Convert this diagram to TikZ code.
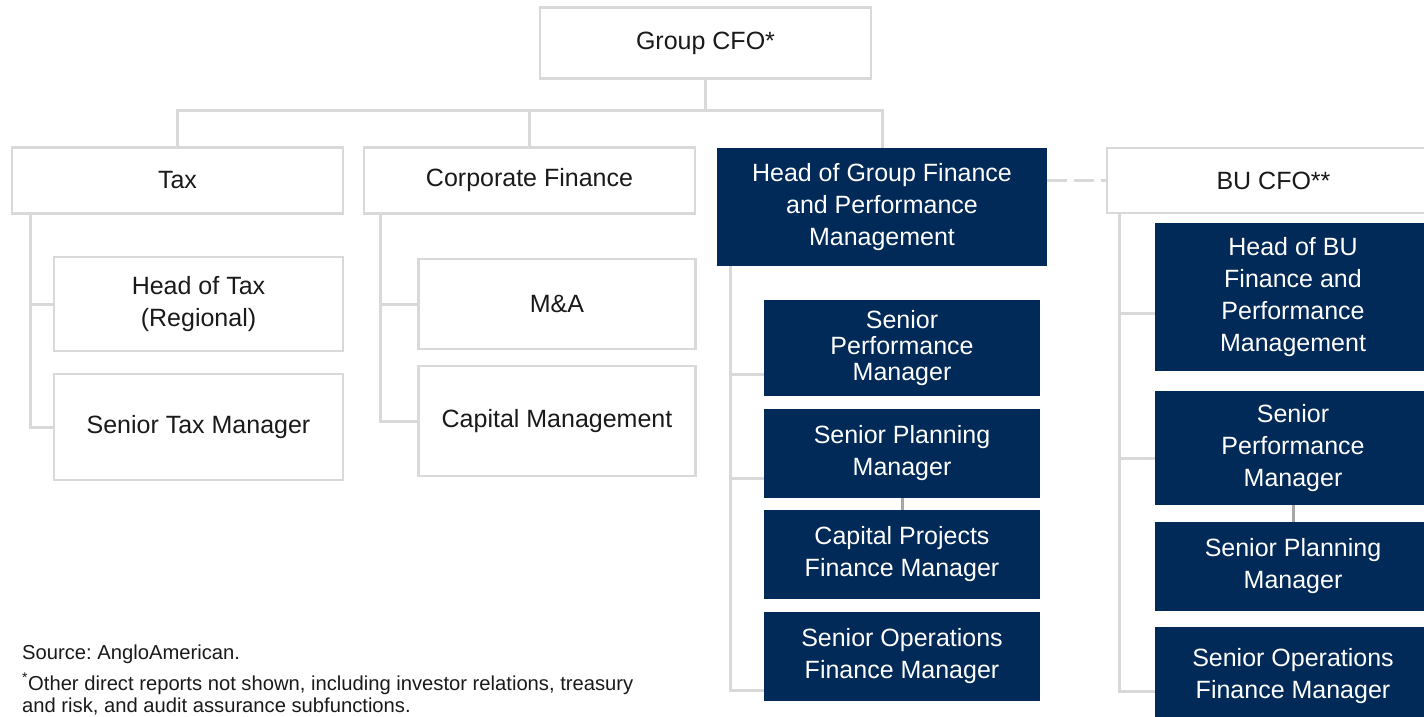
\documentclass[tikz,border=0pt]{standalone}
\usepackage{fontspec}
\setmainfont{Liberation Sans}
\usetikzlibrary{calc}
\frenchspacing

\definecolor{deepnavy}{HTML}{012A59}
\definecolor{linegray}{HTML}{D9D9D9}
\definecolor{stemgray}{HTML}{A6A6A6}
\definecolor{inktext}{HTML}{1A1A1A}

\tikzset{
  role/.style={draw=linegray, line width=2.5pt, fill=white, text=inktext, align=center, inner sep=0pt, font=\fontsize{25}{32}\selectfont},
  navyrole/.style={fill=deepnavy, text=white, align=center, inner sep=0pt, minimum width=276pt, font=\fontsize{25}{32}\selectfont},
  link/.style={draw=linegray, line width=3pt},
  stem/.style={draw=stemgray, line width=3pt},
  note/.style={text=inktext, inner sep=0pt, align=left, font=\fontsize{20.2}{22}\selectfont}
}

\begin{document}
\begin{tikzpicture}[x=1pt, y=-1pt]
  \useasboundingbox (0,0) rectangle (1424,716);

  % top of the chart
  \node[role, minimum width=331pt, minimum height=71pt] (cfo) at (705.5,43) {Group CFO*};
  \node[role, minimum width=331pt, minimum height=66pt] (tax) at (177.5,180.5) {Tax};
  \node[role, minimum width=331pt, minimum height=66pt] (corp) at (529.5,180.5) {Corporate Finance};
  \node[navyrole, minimum width=330pt, minimum height=118pt] (hgf) at (882,207) {Head of Group Finance\\and Performance\\Management};
  \node[role, minimum width=333pt, minimum height=65pt] (bucfo) at (1273.5,180.5) {BU CFO**};

  % tax and corporate finance
  \node[role, minimum width=289pt, minimum height=94pt] (hot) at (198.5,304) {Head of Tax\\(Regional)};
  \node[role, minimum width=289pt, minimum height=106pt] (stm) at (198.5,427) {Senior Tax Manager};
  \node[role, minimum width=277pt, minimum height=90pt] (ma) at (557,304) {M\&A};
  \node[role, minimum width=277pt, minimum height=110pt] (capm) at (557,421) {Capital Management};

  % group finance team
  \node[navyrole, minimum height=96pt, font=\fontsize{25}{26}\selectfont] (spm) at (902,348) {Senior\\Performance\\Manager};
  \node[navyrole, minimum height=89pt] (splm) at (902,453.5) {Senior Planning\\Manager};
  \node[navyrole, minimum height=89pt] (cpfm) at (902,554.5) {Capital Projects\\Finance Manager};
  \node[navyrole, minimum height=89pt] (sofm) at (902,656.5) {Senior Operations\\Finance Manager};

  % BU team
  \node[navyrole, minimum height=148pt] (hbu) at (1293,297) {Head of BU\\Finance and\\Performance\\Management};
  \node[navyrole, minimum height=114pt] (rspm) at (1293,448) {Senior\\Performance\\Manager};
  \node[navyrole, minimum height=89pt] (rsplm) at (1293,566.5) {Senior Planning\\Manager};
  \node[navyrole, minimum height=98pt] (rsofm) at (1293,676) {Senior Operations\\Finance Manager};

  % lines
  \coordinate (bus) at (705.5,110);
  \draw[link] (cfo.south) -- (bus);
  \draw[link] (bus) -| (tax.north);
  \draw[link] (bus) -| (corp.north);
  \draw[link] (bus) -| (hgf.north);

  \draw[link] ([xshift=20pt]tax.south west) |- (hot.west);
  \draw[link] ([xshift=20pt]tax.south west) |- (stm.west);
  \draw[link] ([xshift=18pt]corp.south west) |- (ma.west);
  \draw[link] ([xshift=18pt]corp.south west) |- (capm.west);

  \draw[link] ([xshift=14pt]hgf.south west) |- ([yshift=22pt]spm.south west);
  \draw[link] ([xshift=14pt]hgf.south west) |- ([yshift=20pt]splm.south west);
  \draw[link] ([xshift=14pt]hgf.south west) |- ([yshift=11pt]sofm.south west);
  \draw[stem] (splm.south) -- (cpfm.north);

  \draw[link] ([xshift=14pt]bucfo.south west) |- ([yshift=-16pt]hbu.west);
  \draw[link] ([xshift=14pt]bucfo.south west) |- ([yshift=-10pt]rspm.west);
  \draw[link] ([xshift=14pt]bucfo.south west) |- ([yshift=-15pt]rsofm.west);
  \draw[stem] (rspm.south) -- (rsplm.north);

  \draw[link, dash pattern=on 20pt off 7pt] (hgf.east |- bucfo.west) -- (bucfo.west);

  % notes
  \node[note, anchor=west] (src) at (22,654) {Source: AngloAmerican.};
  \node[note, anchor=west] (fn) at (22,694) {\textsuperscript{*}Other direct reports not shown, including investor relations, treasury\\and risk, and audit assurance subfunctions.};
\end{tikzpicture}
\end{document}
